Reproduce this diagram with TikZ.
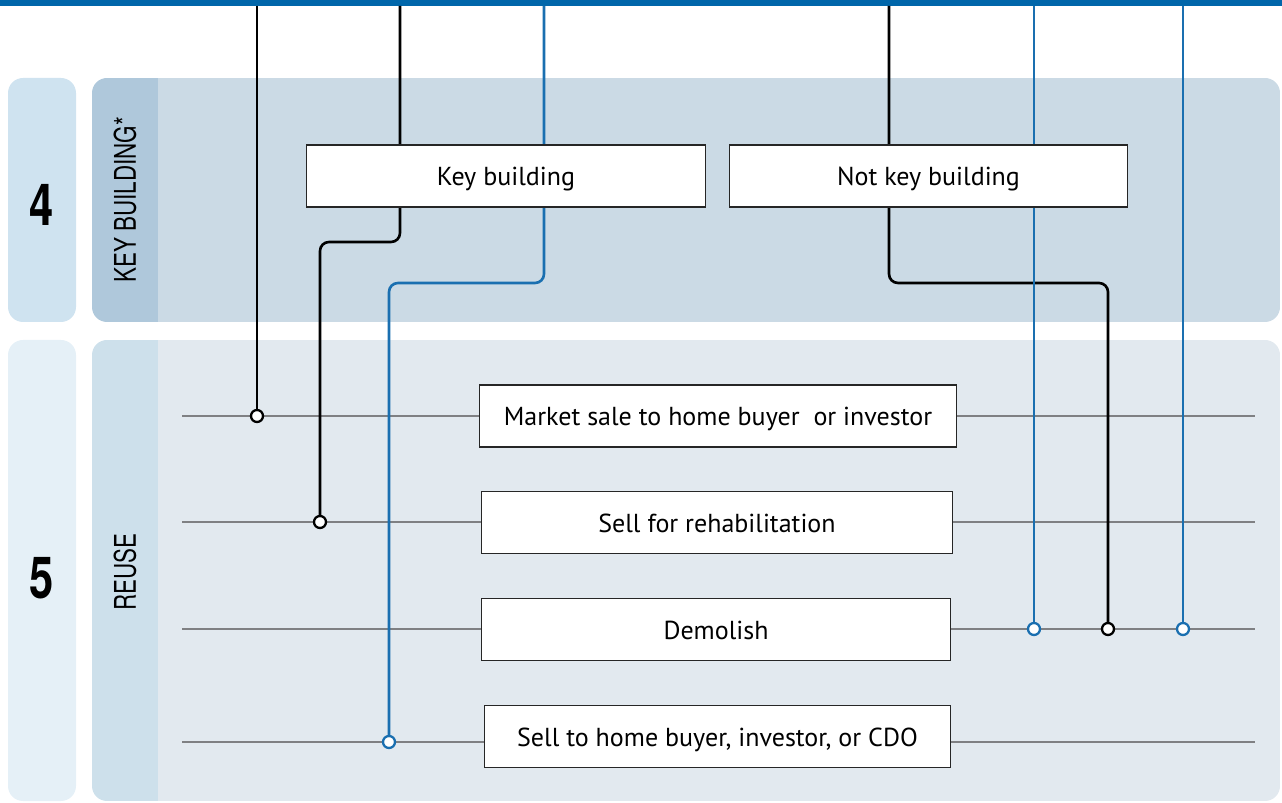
\documentclass[tikz,border=0pt]{standalone}
\usepackage{fontspec}
\setmainfont{PT Sans}
\newfontfamily\condfont[FakeStretch=0.75]{TeX Gyre Heros}
\usetikzlibrary{calc, positioning}

\definecolor{topblue}{HTML}{0066AA}
\definecolor{wireblue}{HTML}{1A6FB0}
\definecolor{railgray}{HTML}{7F8083}
\definecolor{badgefour}{HTML}{CFE3F0}
\definecolor{stripfour}{HTML}{AFC8DB}
\definecolor{bandfour}{HTML}{CBDAE5}
\definecolor{badgefive}{HTML}{E5F0F7}
\definecolor{stripfive}{HTML}{CDE0EB}
\definecolor{bandfive}{HTML}{E2E9EF}

\pgfdeclarelayer{back}
\pgfdeclarelayer{wires}
\pgfsetlayers{back,wires,main}

\begin{document}
\begin{tikzpicture}[x=0.02cm, y=-0.02cm,
    choice/.style={draw=black!85, fill=white, line width=0.6pt, inner sep=0pt,
      minimum height=1.24cm, text height=11pt, text depth=0pt,
      font=\fontsize{14.8}{17}\selectfont},
    dot/.style={circle, draw, fill=white, line width=1.3pt, inner sep=0pt, minimum size=0.24cm},
    wire/.style={line width=1.5pt, rounded corners=0.18cm},
    rail/.style={railgray, line width=1.6pt},
    stepnum/.style={font=\condfont\bfseries\fontsize{33}{36}\selectfont},
    steplabel/.style={rotate=90, font=\condfont\fontsize{17}{20}\selectfont}]
  \useasboundingbox (0,0) rectangle (1282,803);

  % bands
  \begin{pgfonlayer}{back}
    \fill[topblue] (0,0) rectangle (1282,6);
    \fill[badgefour, rounded corners=0.3cm] (8,78) rectangle (76,322);
    \fill[badgefive, rounded corners=0.3cm] (8,340) rectangle (76,801);
    \foreach \ya/\yb/\cs/\cb in {78/322/stripfour/bandfour, 340/801/stripfive/bandfive} {
      \begin{scope}
        \clip[rounded corners=0.3cm] (92,\ya) rectangle (1280,\yb);
        \fill[\cs] (92,\ya) rectangle (158,\yb);
        \fill[\cb] (158,\ya) rectangle (1280,\yb);
      \end{scope}
    }
  \end{pgfonlayer}

  \node[stepnum] (n4) at (42,205) {4};
  \node[stepnum] (n5) at (42,578) {5};
  \node[steplabel] (l4) at (125,200) {KEY BUILDING*};
  \node[steplabel] (l5) at (125,572) {REUSE};

  % decision boxes
  \node[choice, minimum width=8cm] (kb) at (506,176) {Key building};
  \node[choice, minimum width=7.98cm] (nk) at (928.5,176) {Not key building};

  \node[choice, minimum width=9.56cm] (r1) at (718,416) {Market sale to home buyer\ \ or investor};
  \node[choice, minimum width=9.44cm] (r2) at (717,522.5) {Sell for rehabilitation};
  \node[choice, minimum width=9.4cm] (r3) at (716,629.5) {Demolish};
  \node[choice, minimum width=9.34cm] (r4) at (717.5,736.5) {Sell to home buyer, investor, or CDO};

  % junctions
  \node[dot] (d1) at (257,416) {};
  \node[dot] (d2) at (320,522) {};
  \node[dot, draw=wireblue] (d3) at (1034,629) {};
  \node[dot] (d4) at (1108,629) {};
  \node[dot, draw=wireblue] (d5) at (1183,629) {};
  \node[dot, draw=wireblue] (d6) at (389,742) {};

  \foreach \x [count=\i] in {257, 400, 544, 889, 1034, 1183}
    \coordinate (t\i) at (\x,6);

  \begin{pgfonlayer}{wires}
    \foreach \y [count=\i] in {416, 522, 629, 742} {
      \coordinate (ra\i) at (182,\y);
      \coordinate (rb\i) at (1255,\y);
      \draw[rail] (ra\i) -- (rb\i);
    }
    \draw[wire] (t1) -- (d1);
    \draw[wire] (t2) -- ++(0,236) -| (d2);
    \draw[wire, wireblue] (t3) -- ++(0,277) -| (d6);
    \draw[wire] (t4) -- ++(0,277) -| (d4);
    \draw[wire, wireblue] (t5) -- (d3);
    \draw[wire, wireblue] (t6) -- (d5);
  \end{pgfonlayer}
\end{tikzpicture}
\end{document}
